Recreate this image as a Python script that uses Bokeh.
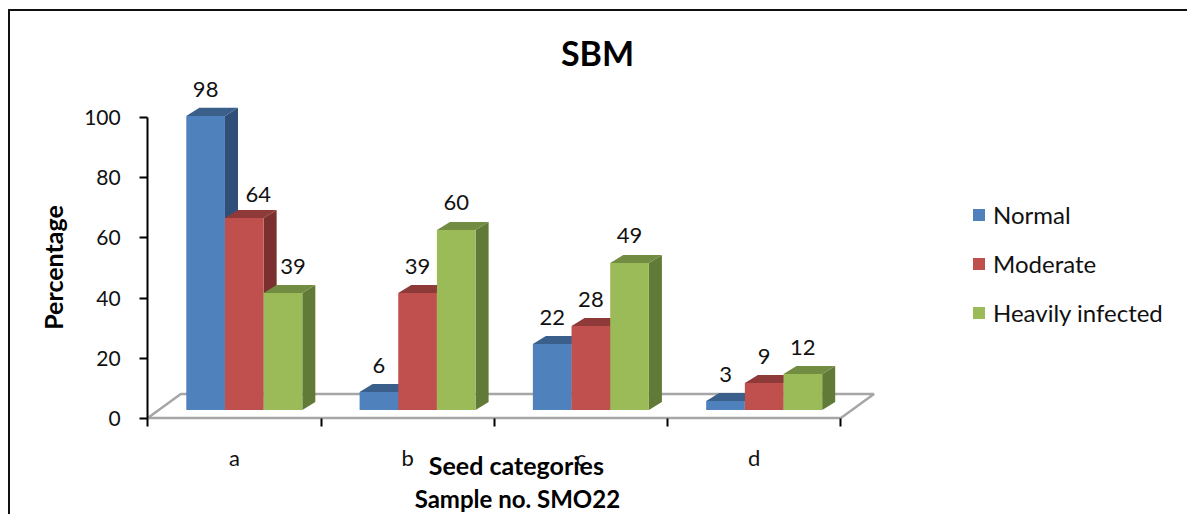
import math
from bokeh.plotting import figure
from bokeh.models import Range1d, LinearAxis, FixedTicker, Label, Legend, LegendItem
from bokeh.embed import file_html
from bokeh.resources import INLINE

categories = ["a", "b", "c", "d"]
normal = [98, 6, 22, 3]
moderate = [64, 39, 28, 9]
heavily = [39, 60, 49, 12]
series_names = ["Normal", "Moderate", "Heavily infected"]
y_ticks = [0, 20, 40, 60, 80, 100]

FONT = "Lato"
front_cols = ["#4F81BD", "#C0504D", "#9BBB59"]
top_cols = ["#3A5F8B", "#8E3A38", "#728C42"]
side_cols = ["#2F4F78", "#7A302E", "#617A38"]

PX_X = 173.0   # pixels per category
PX_Y = 2.99    # pixels per percent
CANVAS_X, CANVAS_Y = 11, 12      # where the canvas starts on the page
W, H = 1188 - CANVAS_X, 515 - CANVAS_Y
ZERO_X, ZERO_Y = 148, 417        # page pixel of the axes' origin
BAR_W = 38.6 / PX_X
BAR_START = 38.5 / PX_X
DX, DY = 13 / PX_X, 8 / PX_Y
FLOOR_DX, FLOOR_DY = 33 / PX_X, 24 / PX_Y


def dx(px):
    return (px - ZERO_X) / PX_X


def dy(py):
    return (ZERO_Y - py) / PX_Y


p = figure(width=W, height=H, output_backend="svg", toolbar_location=None,
           x_axis_type=None, y_axis_type=None,
           x_range=Range1d(dx(CANVAS_X), dx(1188)),
           y_range=Range1d(dy(515), dy(CANVAS_Y)),
           min_border_left=0, min_border_right=0, min_border_top=0, min_border_bottom=0,
           margin=(9, 0, 0, 8),
           styles={"border-left": "2px solid #111111", "border-top": "2px solid #111111",
                   "box-sizing": "content-box"})
p.outline_line_color = None
p.grid.visible = False
p.background_fill_color = "white"

# floor
n = len(categories)
p.patch([0, n, n + FLOOR_DX, FLOOR_DX], [0, 0, FLOOR_DY, FLOOR_DY],
        fill_color="white", line_color="#A6A6A6", line_width=2.5)

# 3-D bars
legend_items = []
nudges = {(0, 1): (14, 4), (0, 0): (0, 1)}
for s, vals in enumerate([normal, moderate, heavily]):
    lefts = [i + BAR_START + s * BAR_W for i in range(n)]
    rights = [l + BAR_W for l in lefts]
    tops = [v + DY for v in vals]
    p.patches([[r, r + DX, r + DX, r] for r in rights],
              [[DY, 2 * DY, t + DY, t] for t in tops],
              fill_color=side_cols[s], line_color=None)
    p.patches([[l, r, r + DX, l + DX] for l, r in zip(lefts, rights)],
              [[t, t, t + DY, t + DY] for t in tops],
              fill_color=top_cols[s], line_color=None)
    q = p.quad(left=lefts, right=rights, bottom=[DY] * n, top=tops,
               fill_color=front_cols[s], line_color=None)
    legend_items.append(LegendItem(label=series_names[s], renderers=[q]))

    for i, v in enumerate(vals):
        nx, ny = nudges.get((i, s), (10, 0) if (i, s) == (0, 2) else (0, 0))
        p.add_layout(Label(x=(lefts[i] + rights[i]) / 2, y=tops[i], text=str(v),
                           x_offset=nx, y_offset=27 - ny, text_align="center",
                           text_baseline="middle", text_font=FONT, text_font_size="22px",
                           text_color="#111111"))

# axes
ya = LinearAxis(ticker=FixedTicker(ticks=y_ticks), bounds=(0, 100), fixed_location=0,
                major_label_text_font=FONT, major_label_text_font_size="21px",
                major_label_text_color="#111111", major_label_standoff=19,
                axis_line_color="black", axis_line_width=2, major_tick_line_color="black",
                major_tick_line_width=2, major_tick_in=0, major_tick_out=8, minor_tick_in=0, minor_tick_out=0)
p.add_layout(ya, "left")

xa = LinearAxis(ticker=FixedTicker(ticks=[i + 0.5 for i in range(n)], minor_ticks=list(range(n + 1))),
                bounds=(0, n), fixed_location=0,
                major_label_overrides={i + 0.5: c for i, c in enumerate(categories)},
                major_label_text_font=FONT, major_label_text_font_size="22px",
                major_label_text_color="#111111", major_label_standoff=18,
                axis_line_color=None, major_tick_line_color=None, major_tick_in=0, major_tick_out=0,
                minor_tick_line_color="black", minor_tick_line_width=2, minor_tick_in=0, minor_tick_out=8)
p.add_layout(xa, "below")

# titles
def add_text(text, px, py, size, angle=0.0):
    p.add_layout(Label(x=dx(px), y=dy(py), text=text, text_align="center", text_baseline="middle",
                       text_font=FONT, text_font_style="bold", text_font_size=size,
                       text_color="black", angle=angle))


add_text("SBM", 597, 53, "34px")
add_text("Percentage", 53, 267, "25px", math.pi / 2)
add_text("Seed categories", 516, 464, "25px")
add_text("Sample no. SMO22", 517, 497, "24px")

# legend
leg = Legend(items=legend_items, location=(972 - CANVAS_X, 515 - 326), orientation="vertical",
             glyph_width=15, glyph_height=15, label_standoff=7, spacing=20,
             label_height=28, label_text_font=FONT, label_text_font_size="24px",
             label_text_color="#111111", border_line_color=None,
             background_fill_alpha=0, padding=0, margin=0)
p.add_layout(leg, "center")

open("out.html", "w").write(file_html(p, INLINE))
